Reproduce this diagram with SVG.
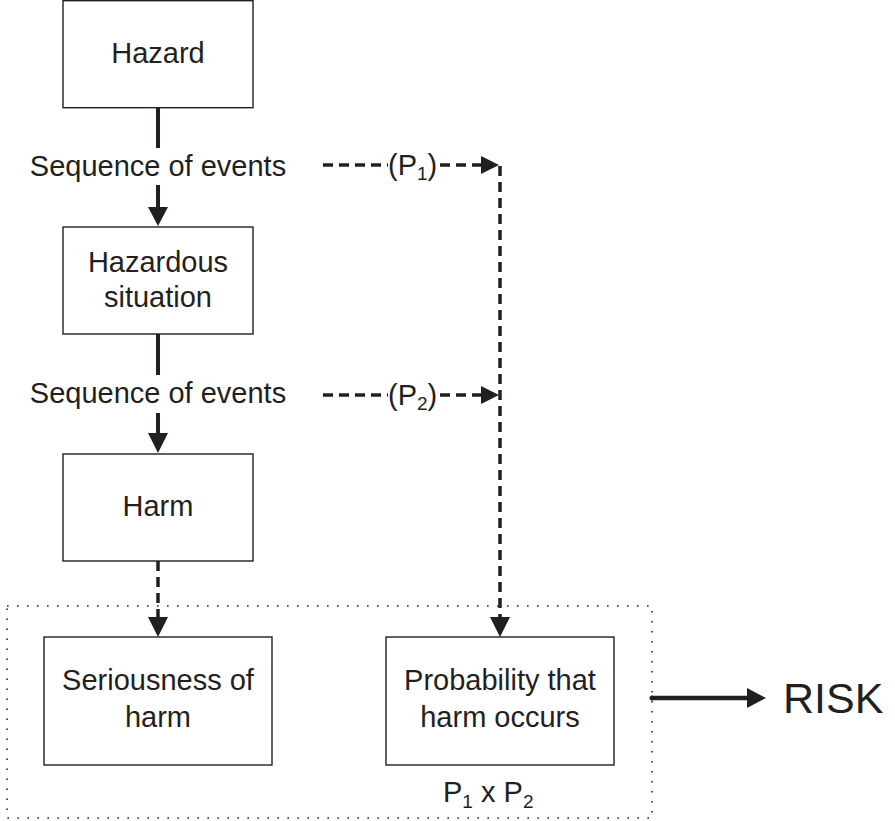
<svg xmlns="http://www.w3.org/2000/svg" width="895" height="821" viewBox="0 0 895 821">
  <defs>
    <style>
      .box { fill: #ffffff; stroke: #231f20; stroke-width: 1.4; }
      .lbl { font-family: "Liberation Sans", Arial, sans-serif; font-size: 29px; fill: #231f20; text-anchor: middle; }
      .sub { font-size: 19px; }
      .solid { stroke: #231f20; stroke-width: 4; fill: none; }
      .dash { stroke: #231f20; stroke-width: 3.5; stroke-dasharray: 10 6; fill: none; }
      .dots { fill: none; stroke: #231f20; stroke-width: 1.6; stroke-dasharray: 1.6 8.4; }
      .head { fill: #231f20; }
    </style>
  </defs>
  <rect width="895" height="821" fill="#ffffff"/>

  <!-- grouping frame around the two outcome boxes -->
  <rect id="frame" class="dots" x="7" y="606" width="645" height="212"/>

  <g id="hazard">
    <rect class="box" x="63" y="0.7" width="190" height="107"/>
    <text class="lbl" x="158" y="63">Hazard</text>
  </g>

  <g id="hazardous-situation">
    <rect class="box" x="63" y="227" width="190" height="107"/>
    <text class="lbl" x="158" y="272">Hazardous</text>
    <text class="lbl" x="158" y="307">situation</text>
  </g>

  <g id="harm">
    <rect class="box" x="63" y="454" width="190" height="107"/>
    <text class="lbl" x="158" y="516">Harm</text>
  </g>

  <g id="seriousness">
    <rect class="box" x="44" y="637" width="228" height="128"/>
    <text class="lbl" x="158" y="690">Seriousness of</text>
    <text class="lbl" x="158" y="727">harm</text>
  </g>

  <g id="probability">
    <rect class="box" x="386" y="637" width="228" height="128"/>
    <text class="lbl" x="500" y="690">Probability that</text>
    <text class="lbl" x="500" y="727">harm occurs</text>
  </g>

  <g id="product">
    <text class="lbl" x="443" y="802" style="text-anchor:start">P<tspan class="sub" dy="6">1</tspan><tspan dy="-6"> x P</tspan><tspan class="sub" dy="6">2</tspan></text>
  </g>

  <g id="risk">
    <text class="lbl" x="783" y="713" style="text-anchor:start;font-size:43px">RISK</text>
  </g>

  <g id="connectors">
    <!-- Hazard to Hazardous situation -->
    <line class="solid" x1="158" y1="108" x2="158" y2="148"/>
    <text class="lbl" x="158" y="176">Sequence of events</text>
    <line class="solid" x1="158" y1="185" x2="158" y2="208"/>
    <polygon class="head" points="148,207 168,207 158,226"/>

    <!-- Hazardous situation to Harm -->
    <line class="solid" x1="158" y1="334" x2="158" y2="375"/>
    <text class="lbl" x="158" y="403">Sequence of events</text>
    <line class="solid" x1="158" y1="413" x2="158" y2="434"/>
    <polygon class="head" points="148,433 168,433 158,453"/>

    <!-- Harm to Seriousness of harm -->
    <line class="dash" x1="158" y1="561" x2="158" y2="618"/>
    <polygon class="head" points="148,617 168,617 158,637"/>

    <!-- P1 branch -->
    <line class="dash" x1="323" y1="165" x2="388" y2="165"/>
    <text class="lbl" x="388" y="175" style="text-anchor:start;font-size:29px">(P<tspan class="sub" dy="5">1</tspan><tspan dy="-5">)</tspan></text>
    <line class="dash" x1="440" y1="165" x2="482" y2="165"/>
    <polygon class="head" points="481,156 481,174 499,165"/>

    <!-- P2 branch -->
    <line class="dash" x1="323" y1="395" x2="388" y2="395"/>
    <text class="lbl" x="388" y="405" style="text-anchor:start;font-size:29px">(P<tspan class="sub" dy="5">2</tspan><tspan dy="-5">)</tspan></text>
    <line class="dash" x1="440" y1="395" x2="482" y2="395"/>
    <polygon class="head" points="481,386 481,404 499,395"/>

    <!-- combined probability down to Probability box -->
    <line class="dash" x1="500" y1="166" x2="500" y2="618"/>
    <polygon class="head" points="490,617 510,617 500,637"/>

    <!-- frame to RISK -->
    <line class="solid" x1="652" y1="698" x2="749" y2="698" style="stroke-width:4.5"/>
    <polygon class="head" points="747,688 747,708 766,698"/>
    <circle class="head" cx="652" cy="698" r="2.5"/>
  </g>
</svg>
